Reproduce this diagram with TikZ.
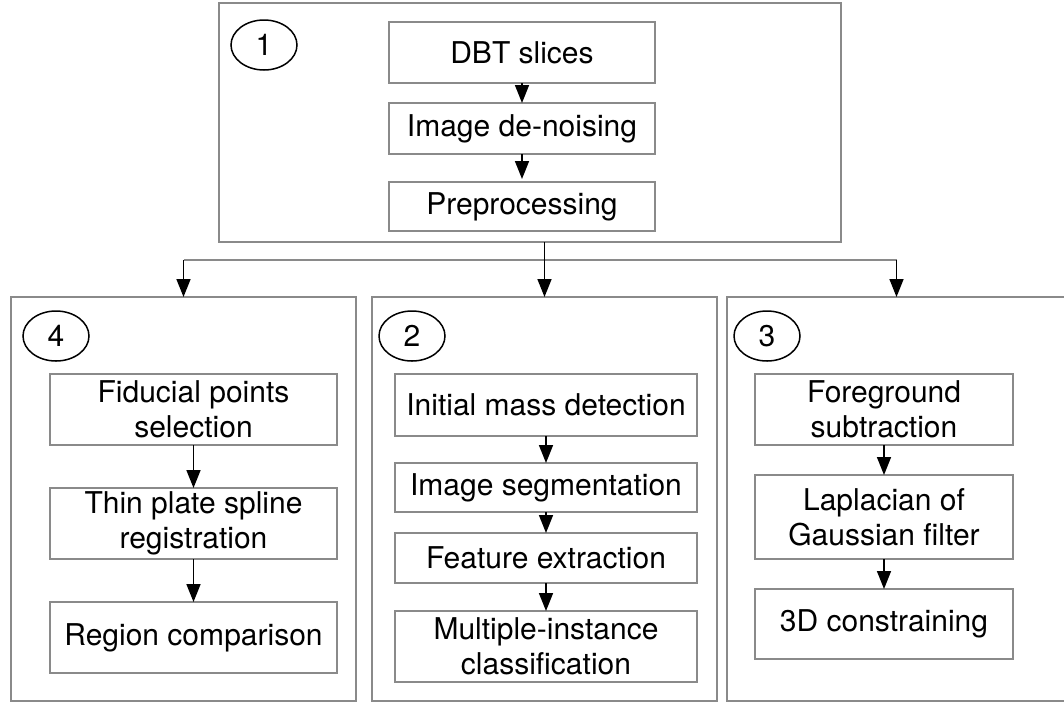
\documentclass[tikz,border=0pt]{standalone}
\usepackage{fontspec}
\setmainfont{TeX Gyre Heros}
\usetikzlibrary{arrows.meta,shapes.geometric}
\definecolor{framegray}{RGB}{138,138,138}

\begin{document}
\begin{tikzpicture}[x=1pt,y=-1pt,
  panel/.style={draw=framegray,line width=1.8pt,inner sep=0pt,outer sep=0pt},
  stepbox/.style={draw=framegray,line width=1.8pt,align=center,inner sep=0pt,outer sep=0pt,
    font=\fontsize{30}{35}\selectfont},
  tag/.style={draw=black,ellipse,line width=1.5pt,minimum width=66pt,minimum height=50pt,
    inner sep=0pt,font=\fontsize{30}{35}\selectfont},
  flow/.style={draw=black,line width=1.6pt,-{Triangle[length=18pt,width=14pt]}},
  rail/.style={draw=framegray,line width=1.8pt}]
\useasboundingbox (0,0) rectangle (1064,702);
\clip (0,0) rectangle (1064,702);

% stage 1: input and preprocessing
\node[panel,minimum width=622pt,minimum height=239pt] (p1) at (530,122.5) {};
\node[tag] (t1) at (264,45) {1};
\node[stepbox,minimum width=266pt,minimum height=61pt] (a1) at (522,52.5) {DBT slices};
\node[stepbox,minimum width=266pt,minimum height=51pt] (a2) at (522,128.5) {Image de-noising};
\node[stepbox,minimum width=266pt,minimum height=49pt] (a3) at (522,206.5) {Preprocessing};
\draw[flow] (a1) -- (a2);
\draw[flow,shorten >=3pt] (a2) -- (a3);

% stage 4: registration
\node[panel,minimum width=345pt,minimum height=404pt] (p4) at (183.5,499) {};
\node[tag] (t4) at (56,336) {4};
\node[stepbox,minimum width=287pt,minimum height=71pt] (d1) at (193.5,409.5) {Fiducial points\\selection};
\node[stepbox,minimum width=287pt,minimum height=71pt] (d2) at (193.5,523.5) {Thin plate spline\\registration};
\node[stepbox,minimum width=287pt,minimum height=71pt] (d3) at (193.5,637.5) {Region comparison};
\draw[flow] (d1) -- (d2);
\draw[flow] (d2) -- (d3);

% stage 2: detection and classification
\node[panel,minimum width=345pt,minimum height=404pt] (p2) at (544.5,499) {};
\node[tag] (t2) at (412,336) {2};
\node[stepbox,minimum width=302pt,minimum height=62pt] (b1) at (546,405) {Initial mass detection};
\node[stepbox,minimum width=302pt,minimum height=49pt] (b2) at (546,487.5) {Image segmentation};
\node[stepbox,minimum width=302pt,minimum height=50pt] (b3) at (546,558) {Feature extraction};
\node[stepbox,minimum width=302pt,minimum height=71pt] (b4) at (546,646.5) {Multiple-instance\\classification};
\draw[flow] (b1) -- (b2);
\draw[flow] (b2) -- (b3);
\draw[flow] (b3) -- (b4);

% stage 3: filtering
\node[panel,minimum width=339pt,minimum height=404pt] (p3) at (896.5,499) {};
\node[tag] (t3) at (767,336) {3};
\node[stepbox,minimum width=258pt,minimum height=71pt] (c1) at (884,409.5) {Foreground\\subtraction};
\node[stepbox,minimum width=258pt,minimum height=84pt] (c2) at (884,517) {Laplacian of\\Gaussian filter};
\node[stepbox,minimum width=258pt,minimum height=70pt] (c3) at (884,624) {3D constraining};
\draw[flow] (c1) -- (c2);
\draw[flow] (c2) -- (c3);

% distribution from stage 1 to the three branches
\coordinate (hub) at (544.5,260);
\draw[rail] (p4.north |- hub) -- (p3.north |- hub);
\draw[flow] (p1.south -| p2.north) -- (p2.north);
\draw[flow] (p4.north |- hub) -- (p4.north);
\draw[flow] (p3.north |- hub) -- (p3.north);
\end{tikzpicture}
\end{document}
